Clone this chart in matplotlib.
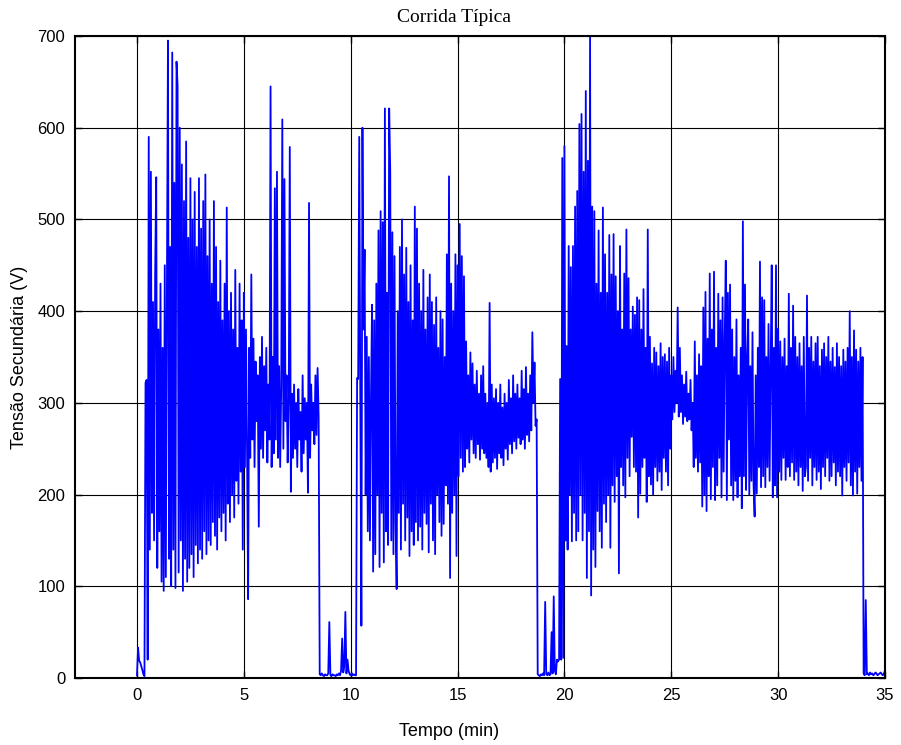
import numpy as np
import matplotlib
matplotlib.use("Agg")
import matplotlib.pyplot as plt

# Sampling interval of the secondary-voltage log (minutes)
dt = 0.05

# Before the first melt: 0.00 - 0.35 min
idle_start = [3, 33, 19, 17, 13, 9, 4, 2]

# First melt: 0.40 - 8.50 min
melt_1 = [
    322, 325, 20, 590, 140, 552, 180, 410, 150, 440,
    546, 120, 380, 160, 430, 105, 360, 95, 450, 110,
    420, 695, 130, 470, 100, 682, 140, 540, 98, 672,
    646, 115, 600, 150, 560, 95, 520, 130, 585, 105,
    480, 120, 545, 135, 500, 110, 530, 145, 470, 125,
    545, 140, 490, 130, 520, 160, 549, 135, 460, 150,
    500, 145, 430, 170, 520, 155, 470, 140, 410, 175,
    455, 160, 390, 180, 430, 150, 513, 190, 400, 170,
    420, 200, 380, 175, 445, 215, 360, 190, 430, 225,
    390, 140, 420, 230, 380, 250, 86, 360, 240, 440,
    260, 370, 230, 345, 280, 330, 165, 350, 250, 372,
    240, 340, 270, 360, 235, 320, 260, 645, 230, 350,
    245, 534, 260, 552, 240, 340, 230, 320, 609, 250,
    544, 280, 330, 235, 300, 579, 203, 310, 240, 320,
    250, 300, 230, 315, 260, 290, 225, 330, 245, 305,
    260, 300, 202, 518, 240, 320, 270, 300, 255, 330,
    265, 338, 285,
]

# Pause between melts: 8.55 - 10.25 min
idle_1 = [
    4, 3, 5, 3, 2, 4, 3, 3, 5, 61,
    3, 2, 4, 3, 3, 2, 4, 3, 5, 3,
    8, 43, 6, 12, 72, 5, 20, 8, 4, 3,
    5, 3, 4, 3, 3,
]

# Second melt: 10.30 - 18.70 min
melt_2 = [
    327, 326, 590, 300, 57, 600, 380, 467, 200, 372,
    160, 350, 150, 310, 407, 116, 390, 135, 430, 200,
    488, 121, 509, 180, 497, 126, 621, 160, 420, 145,
    621, 552, 150, 486, 135, 460, 170, 97, 400, 180,
    470, 140, 500, 190, 440, 150, 469, 175, 410, 133,
    450, 160, 390, 145, 514, 170, 490, 150, 430, 165,
    400, 140, 445, 180, 380, 168, 415, 137, 440, 190,
    410, 150, 385, 135, 415, 200, 360, 170, 400, 155,
    391, 168, 350, 210, 462, 190, 547, 109, 430, 180,
    400, 200, 462, 133, 450, 220, 495, 240, 460, 225,
    438, 230, 367, 250, 330, 235, 355, 260, 343, 245,
    320, 240, 335, 255, 310, 238, 330, 250, 340, 245,
    310, 240, 300, 230, 409, 225, 320, 235, 305, 240,
    315, 228, 300, 245, 320, 240, 295, 232, 310, 250,
    300, 238, 325, 255, 305, 245, 330, 258, 310, 250,
    320, 262, 305, 255, 335, 260, 315, 250, 339, 265,
    310, 258, 330, 270, 377, 300, 344, 275, 282,
]

# Pause between melts: 18.75 - 19.75 min
idle_2 = [4, 3, 2, 4, 3, 5, 3, 83, 4, 3, 6, 3, 4, 50, 5, 89, 8, 4, 20, 18, 20]

# Third melt: 19.80 - 33.95 min
melt_3 = [
    326, 20, 567, 22, 580, 150, 362, 140, 471, 200,
    448, 149, 471, 180, 514, 150, 531, 160, 604, 200,
    615, 150, 552, 180, 640, 109, 564, 160, 700, 90,
    514, 140, 509, 121, 430, 182, 488, 160, 420, 142,
    513, 190, 462, 170, 420, 200, 483, 142, 440, 210,
    484, 192, 438, 220, 400, 114, 471, 230, 380, 210,
    441, 197, 489, 240, 436, 220, 380, 263, 405, 230,
    396, 225, 415, 175, 412, 201, 380, 230, 424, 240,
    360, 192, 489, 220, 372, 211, 343, 200, 360, 230,
    355, 215, 340, 225, 365, 205, 350, 240, 353, 225,
    345, 210, 360, 250, 330, 282, 350, 290, 335, 300,
    404, 285, 360, 290, 330, 277, 320, 285, 334, 280,
    310, 282, 325, 270, 300, 230, 367, 240, 330, 225,
    353, 235, 340, 187, 404, 200, 421, 182, 370, 220,
    441, 195, 380, 230, 443, 194, 360, 210, 419, 240,
    390, 197, 415, 225, 370, 455, 194, 420, 260, 429,
    210, 380, 194, 350, 215, 391, 197, 330, 220, 360,
    185, 498, 220, 429, 205, 350, 391, 200, 340, 215,
    377, 210, 176, 330, 201, 360, 230, 454, 208, 415,
    220, 412, 208, 350, 230, 386, 215, 340, 450, 197,
    360, 210, 450, 197, 381, 225, 367, 216, 350, 240,
    370, 216, 340, 230, 419, 220, 360, 235, 406, 216,
    372, 225, 350, 210, 365, 230, 340, 204, 372, 220,
    230, 417, 215, 360, 240, 372, 210, 345, 230, 365,
    216, 372, 225, 340, 206, 358, 230, 365, 220, 350,
    240, 372, 215, 345, 220, 360, 235, 339, 210, 365,
    225, 350, 220, 340, 199, 358, 230, 345, 215, 360,
    235, 400, 210, 350, 199, 379, 225, 358, 201, 345,
    230, 360, 215, 350,
]

# After the last melt: 34.00 - 35.00 min
idle_end = [5, 3, 85, 4, 5, 3, 6, 4, 5, 3, 4, 6, 5, 3, 4, 5, 6, 4, 3, 5, 8]

tensao = np.array(idle_start + melt_1 + idle_1 + melt_2 + idle_2 + melt_3 + idle_end, dtype=float)
tempo = np.arange(len(tensao)) * dt

x_ticks = [0, 5, 10, 15, 20, 25, 30, 35]
y_ticks = [0, 100, 200, 300, 400, 500, 600, 700]

fig = plt.figure(figsize=(9.01, 7.45), dpi=100)
ax = fig.add_axes([75 / 901, 1 - 678 / 745, 810 / 901, 642 / 745])

ax.plot(tempo, tensao, color=(0, 0, 1), linewidth=1.3)

ax.set_xlim(-2.9, 35)
ax.set_ylim(0, 700)
ax.set_xticks(x_ticks)
ax.set_yticks(y_ticks)
ax.grid(True, color="black", linewidth=0.8, linestyle="-")
ax.set_axisbelow(True)
ax.tick_params(direction="in", length=5, width=1, top=True, right=True,
               labelsize=12, pad=7)
for lbl in ax.get_xticklabels() + ax.get_yticklabels():
    lbl.set_family("Liberation Sans")
for side in ["left", "right", "top", "bottom"]:
    ax.spines[side].set_linewidth(1.5)
    ax.spines[side].set_color("black")

ax.set_xlabel("Tempo (min)", family="Liberation Sans", fontsize=13)
ax.xaxis.set_label_coords((449 - 75) / 810, -(732 - 678) / 642, transform=ax.transAxes)
ax.xaxis.label.set_va("center")
ax.set_ylabel("Tensão Secundária (V)", family="Liberation Sans", fontsize=13)
ax.yaxis.set_label_coords(-(75 - 19) / 810, 0.5, transform=ax.transAxes)
ax.yaxis.label.set_va("center")

fig.text(454 / 901, 1 - 18 / 745, "Corrida Típica", family="Liberation Serif",
         fontsize=14, ha="center", va="center")

fig.savefig("out.png", dpi=100)
